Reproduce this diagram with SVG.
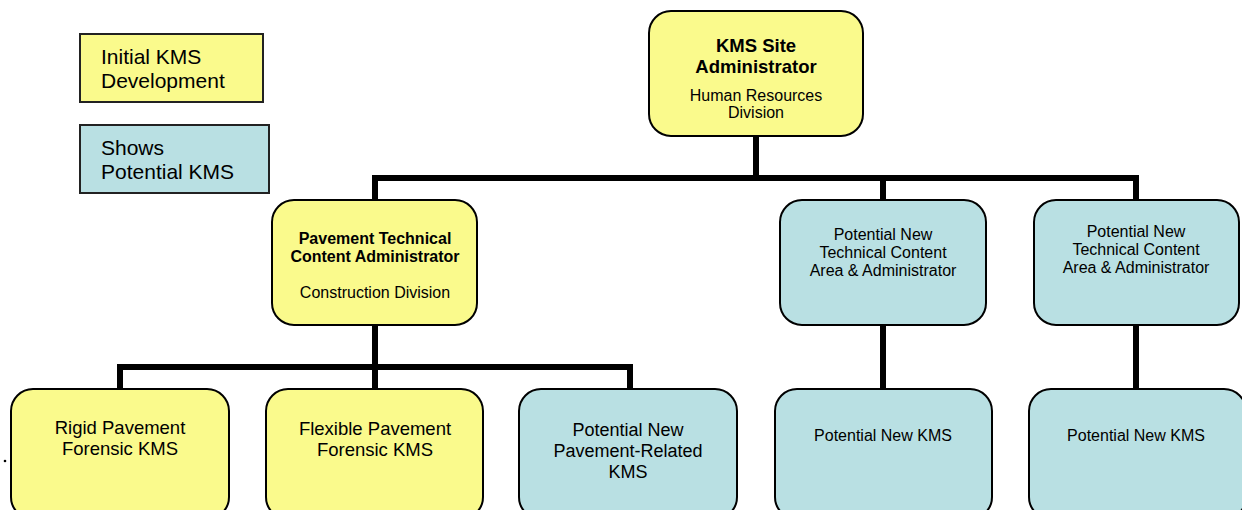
<svg xmlns="http://www.w3.org/2000/svg" width="1242" height="510" viewBox="0 0 1242 510">
<style>
.y{fill:#FAFA8C;stroke:#000;stroke-width:2}
.b{fill:#B9E0E3;stroke:#000;stroke-width:2}
.lg{stroke:#222;stroke-width:2}
text{font-family:"Liberation Sans",Arial,sans-serif;fill:#000;text-anchor:middle}
.l{text-anchor:start;font-size:21px}
.bold{font-weight:bold}
.c{fill:none;stroke:#000;stroke-width:6}
</style>
<rect width="1242" height="510" fill="#fff"/>
<g id="connectors">
<path class="c" d="M756 136V178M375 200V178H1136V200M883 178V200"/>
<path class="c" d="M375 325V367M120 389V367H630V389M375 367V389"/>
<path class="c" d="M883 325V389M1136 325V389"/>
</g>
<g id="legend-initial">
<rect class="y lg" x="80" y="34" width="183" height="68"/>
<text class="l" x="101" y="64">Initial KMS</text>
<text class="l" x="101" y="88">Development</text>
</g>
<g id="legend-potential">
<rect class="b lg" x="80" y="125" width="189" height="68"/>
<text class="l" x="101" y="155">Shows</text>
<text class="l" x="101" y="179">Potential KMS</text>
</g>
<g id="site-admin">
<rect class="y" x="649" y="11" width="214" height="125" rx="22"/>
<text class="bold" x="756" y="52" font-size="18.5">KMS Site</text>
<text class="bold" x="756" y="73" font-size="18.5">Administrator</text>
<text x="756" y="101" font-size="16">Human Resources</text>
<text x="756" y="118" font-size="16">Division</text>
</g>
<g id="pavement-admin">
<rect class="y" x="272" y="200" width="205" height="125" rx="22"/>
<text class="bold" x="375" y="244" font-size="16">Pavement Technical</text>
<text class="bold" x="375" y="262" font-size="16">Content Administrator</text>
<text x="375" y="298" font-size="16">Construction Division</text>
</g>
<g id="tech-area-1">
<rect class="b" x="780" y="200" width="206" height="125" rx="22"/>
<text x="883" y="240" font-size="16">Potential New</text>
<text x="883" y="258" font-size="16">Technical Content</text>
<text x="883" y="276" font-size="16">Area &amp; Administrator</text>
</g>
<g id="tech-area-2">
<rect class="b" x="1034" y="200" width="205" height="125" rx="22"/>
<text x="1136" y="237" font-size="16">Potential New</text>
<text x="1136" y="255" font-size="16">Technical Content</text>
<text x="1136" y="273" font-size="16">Area &amp; Administrator</text>
</g>
<g id="rigid">
<rect class="y" x="11" y="389" width="218" height="130" rx="22"/>
<text x="120" y="434" font-size="18.5">Rigid Pavement</text>
<text x="120" y="455" font-size="18.5">Forensic KMS</text>
</g>
<g id="flexible">
<rect class="y" x="266" y="389" width="217" height="130" rx="22"/>
<text x="375" y="435" font-size="18.5">Flexible Pavement</text>
<text x="375" y="456" font-size="18.5">Forensic KMS</text>
</g>
<g id="pavement-related">
<rect class="b" x="519" y="389" width="218" height="130" rx="22"/>
<text x="628" y="436" font-size="18">Potential New</text>
<text x="628" y="457" font-size="18">Pavement-Related</text>
<text x="628" y="478" font-size="18">KMS</text>
</g>
<g id="new-kms-1">
<rect class="b" x="775" y="389" width="217" height="130" rx="22"/>
<text x="883" y="441" font-size="16">Potential New KMS</text>
</g>
<g id="new-kms-2">
<rect class="b" x="1029" y="389" width="217" height="130" rx="22"/>
<text x="1136" y="441" font-size="16">Potential New KMS</text>
</g>
<circle cx="5" cy="461" r="1.3" fill="#000"/>
</svg>
